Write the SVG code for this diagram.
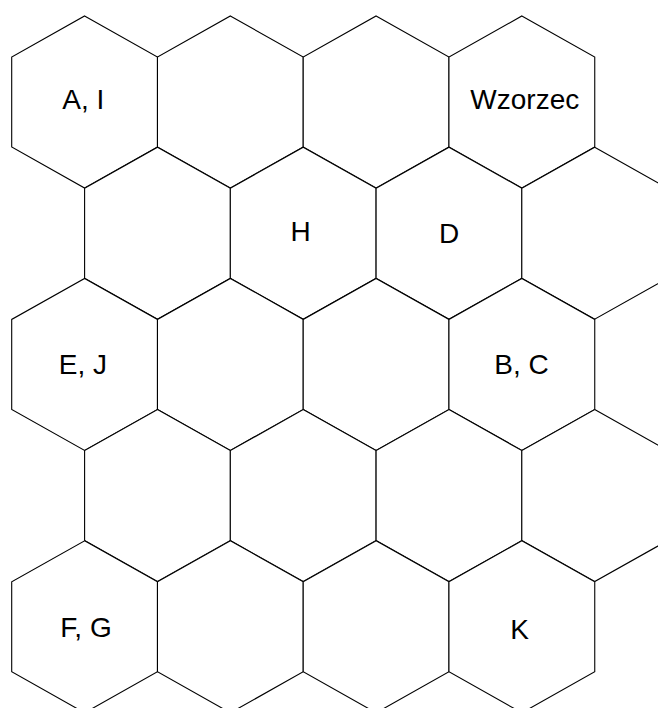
<svg xmlns="http://www.w3.org/2000/svg" xmlns:xlink="http://www.w3.org/1999/xlink" width="658" height="708" viewBox="0 0 658 708">
<style>
.hex{fill:#fff;stroke:#000;stroke-width:1.1;stroke-linejoin:miter}
.lbl{font-family:"Liberation Sans",Arial,sans-serif;font-size:28px;fill:#000;text-anchor:middle}
</style>
<defs>
<path id="hex" class="hex" d="M0,-86 L72.9,-45 L72.9,45 L0,86 L-72.9,45 L-72.9,-45 Z"/>
</defs>
<rect width="658" height="708" fill="#fff"/>
<g id="row1">
<g id="n-AI"><use xlink:href="#hex" x="84.6" y="102"/><text class="lbl" x="83.3" y="109">A, I</text></g>
<g id="n-r1c2"><use xlink:href="#hex" x="230.35" y="102"/></g>
<g id="n-r1c3"><use xlink:href="#hex" x="376.1" y="102"/></g>
<g id="n-Wzorzec"><use xlink:href="#hex" x="521.85" y="102"/><text class="lbl" x="524.8" y="108.5">Wzorzec</text></g>
</g>
<g id="row2">
<g id="n-r2c1"><use xlink:href="#hex" x="157.5" y="233.2"/></g>
<g id="n-H"><use xlink:href="#hex" x="303.2" y="233.2"/><text class="lbl" x="300.6" y="241">H</text></g>
<g id="n-D"><use xlink:href="#hex" x="449" y="233.2"/><text class="lbl" x="449.2" y="242.5">D</text></g>
<g id="n-r2c4"><use xlink:href="#hex" x="594.7" y="233.2"/></g>
</g>
<g id="row3">
<g id="n-EJ"><use xlink:href="#hex" x="84.6" y="364.4"/><text class="lbl" x="82.9" y="374">E, J</text></g>
<g id="n-r3c2"><use xlink:href="#hex" x="230.35" y="364.4"/></g>
<g id="n-r3c3"><use xlink:href="#hex" x="376.1" y="364.4"/></g>
<g id="n-BC"><use xlink:href="#hex" x="521.85" y="364.4"/><text class="lbl" x="521.5" y="374.2">B, C</text></g>
</g>
<g id="row4">
<g id="n-r4c1"><use xlink:href="#hex" x="157.5" y="495.6"/></g>
<g id="n-r4c2"><use xlink:href="#hex" x="303.2" y="495.6"/></g>
<g id="n-r4c3"><use xlink:href="#hex" x="449" y="495.6"/></g>
<g id="n-r4c4"><use xlink:href="#hex" x="594.7" y="495.6"/></g>
</g>
<g id="row5">
<g id="n-FG"><use xlink:href="#hex" x="84.6" y="626.8"/><text class="lbl" x="86" y="636.7">F, G</text></g>
<g id="n-r5c2"><use xlink:href="#hex" x="230.35" y="626.8"/></g>
<g id="n-r5c3"><use xlink:href="#hex" x="376.1" y="626.8"/></g>
<g id="n-K"><use xlink:href="#hex" x="521.85" y="626.8"/><text class="lbl" x="519.5" y="639">K</text></g>
</g>
<g id="connectors"></g>
</svg>
